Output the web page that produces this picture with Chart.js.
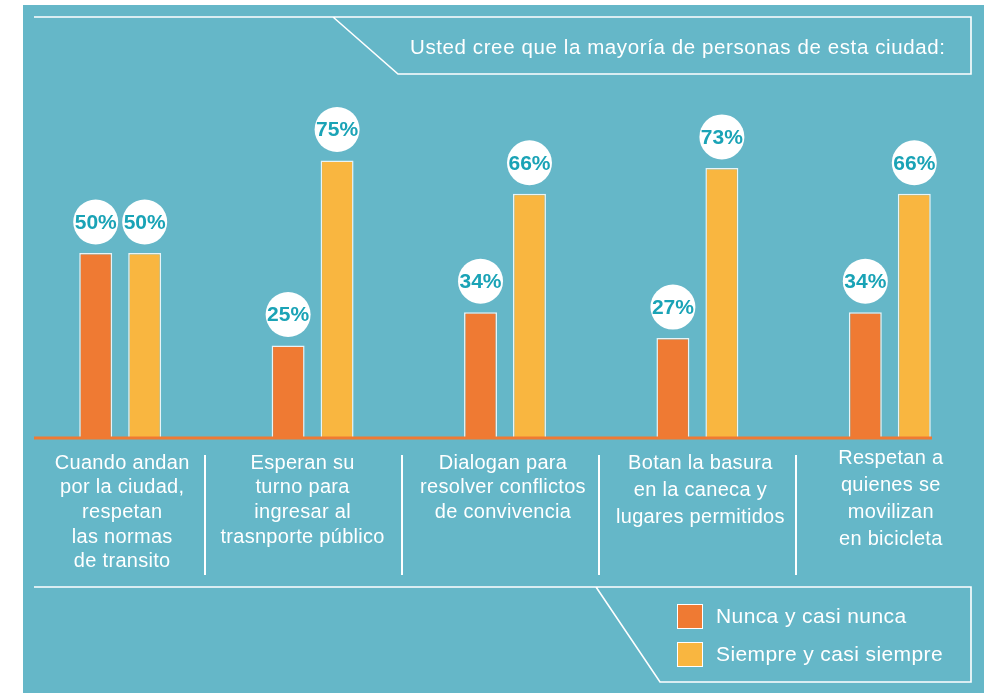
<!DOCTYPE html>
<html>
<head>
<meta charset="utf-8">
<script src="https://cdn.jsdelivr.net/npm/chart.js@4/dist/chart.umd.min.js"></script>
<style>
  html, body { margin: 0; padding: 0; background: #ffffff; }
  #wrap { position: relative; width: 988px; height: 693px; }
</style>
</head>
<body>
<div id="wrap"><canvas id="chart" width="988" height="693"></canvas></div>
<script>
// Survey question and answer categories
const title = 'Usted cree que la mayoría de personas de esta ciudad:';
const categories = [
  ['Cuando andan', 'por la ciudad,', 'respetan', 'las normas', 'de transito'],
  ['Esperan su', 'turno para', 'ingresar al', 'trasnporte público'],
  ['Dialogan para', 'resolver conflictos', 'de convivencia'],
  ['Botan la basura', 'en la caneca y', 'lugares permitidos'],
  ['Respetan a', 'quienes se', 'movilizan', 'en bicicleta']
];
const seriesNames = ['Nunca y casi nunca', 'Siempre y casi siempre'];
const nuncaValues = [50, 25, 34, 27, 34];
const siempreValues = [50, 75, 66, 73, 66];

const TEAL = '#65b7c8';
const ORANGE = '#ef7a33';
const YELLOW = '#f9b640';
const LABEL_TEAL = '#1aa3b6';
const FONT = '"Liberation Sans", Arial, Helvetica, sans-serif';

// Panel background, header box and footer box outlines
const framePlugin = {
  id: 'frame',
  beforeDraw(chart) {
    const ctx = chart.ctx;
    ctx.save();
    ctx.fillStyle = '#ffffff';
    ctx.fillRect(0, 0, chart.width, chart.height);
    ctx.fillStyle = TEAL;
    ctx.fillRect(23, 5, 961, 688);

    ctx.strokeStyle = '#ffffff';
    ctx.lineWidth = 1.6;
    // header
    ctx.beginPath();
    ctx.moveTo(34, 17);
    ctx.lineTo(971, 17);
    ctx.lineTo(971, 74);
    ctx.lineTo(398, 74);
    ctx.lineTo(333, 17);
    ctx.stroke();
    // footer
    ctx.beginPath();
    ctx.moveTo(34, 587);
    ctx.lineTo(971, 587);
    ctx.lineTo(971, 682);
    ctx.lineTo(660, 682);
    ctx.lineTo(596, 587);
    ctx.stroke();

    ctx.fillStyle = '#ffffff';
    ctx.font = '20.5px ' + FONT;
    ctx.letterSpacing = '0.6px';
    ctx.textBaseline = 'middle';
    ctx.textAlign = 'left';
    ctx.fillText(title, 410, 48);
    ctx.restore();
  }
};

// Baseline, value bubbles, category texts, separators and legend
const decorPlugin = {
  id: 'decor',
  afterDatasetsDraw(chart) {
    const ctx = chart.ctx;
    const yScale = chart.scales.y;
    const xScale = chart.scales.x;
    const base = yScale.getPixelForValue(0);
    ctx.save();

    // baseline
    ctx.strokeStyle = ORANGE;
    ctx.lineWidth = 3;
    ctx.beginPath();
    ctx.moveTo(34, base);
    ctx.lineTo(932, base);
    ctx.stroke();

    // value bubbles
    chart.data.datasets.forEach((ds, di) => {
      chart.getDatasetMeta(di).data.forEach((bar, i) => {
        const cx = bar.x;
        const cy = bar.y - 31;
        ctx.fillStyle = '#ffffff';
        ctx.beginPath();
        ctx.arc(cx, cy, 22.5, 0, Math.PI * 2);
        ctx.fill();
        ctx.fillStyle = LABEL_TEAL;
        ctx.font = 'bold 21px ' + FONT;
        ctx.letterSpacing = '0px';
        ctx.textAlign = 'center';
        ctx.textBaseline = 'middle';
        ctx.fillText(ds.data[i] + '%', cx, cy + 1);
      });
    });

    // category texts
    ctx.fillStyle = '#ffffff';
    ctx.font = '20px ' + FONT;
    ctx.letterSpacing = '0.3px';
    ctx.textAlign = 'center';
    ctx.textBaseline = 'middle';
    const lineGap = [24.7, 24.7, 24.7, 27.3, 27.3];
    const firstLine = [463, 463, 463, 463, 458];
    const shift = [2, -10, -2, 3, 1];
    categories.forEach((lines, i) => {
      const cx = xScale.getPixelForValue(i) + shift[i];
      lines.forEach((t, k) => {
        ctx.fillText(t, cx, firstLine[i] + k * lineGap[i]);
      });
    });

    // separators between category texts
    ctx.strokeStyle = '#ffffff';
    ctx.lineWidth = 2;
    for (let i = 0; i < categories.length - 1; i++) {
      const x = 205 + i * 197;
      ctx.beginPath();
      ctx.moveTo(x, 455);
      ctx.lineTo(x, 575);
      ctx.stroke();
    }

    // legend
    ctx.font = '21px ' + FONT;
    ctx.letterSpacing = '0.4px';
    ctx.textAlign = 'left';
    chart.data.datasets.forEach((ds, di) => {
      const y = 604 + di * 38;
      ctx.fillStyle = ds.backgroundColor;
      ctx.fillRect(677, y, 26, 25);
      ctx.strokeStyle = '#ffffff';
      ctx.lineWidth = 1;
      ctx.strokeRect(677.5, y + 0.5, 25, 24);
      ctx.fillStyle = '#ffffff';
      ctx.fillText(ds.label, 716, y + 13);
    });
    ctx.restore();
  }
};

new Chart(document.getElementById('chart'), {
  type: 'bar',
  data: {
    labels: categories.map(c => c.join(' ')),
    datasets: [
      {
        label: seriesNames[0],
        data: nuncaValues,
        backgroundColor: ORANGE,
        borderColor: 'rgba(255,255,255,0.85)',
        borderWidth: 1.5,
        categoryPercentage: 0.509,
        barPercentage: 0.673
      },
      {
        label: seriesNames[1],
        data: siempreValues,
        backgroundColor: YELLOW,
        borderColor: 'rgba(255,255,255,0.85)',
        borderWidth: 1.5,
        categoryPercentage: 0.509,
        barPercentage: 0.673
      }
    ]
  },
  options: {
    responsive: false,
    animation: false,
    layout: { padding: { left: 24, right: 2, top: 68, bottom: 255 } },
    plugins: {
      legend: { display: false },
      tooltip: { enabled: false },
      title: { display: false }
    },
    scales: {
      x: { display: false, offset: true },
      y: { display: false, min: 0, max: 100 }
    }
  },
  plugins: [framePlugin, decorPlugin]
});
</script>
</body>
</html>
